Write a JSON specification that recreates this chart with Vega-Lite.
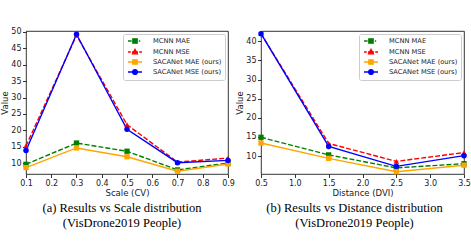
{
  "$schema": "https://vega.github.io/schema/vega-lite/v6.json",
  "padding": {"top": 27, "left": 0, "right": 0, "bottom": 0},
  "datasets": {
    "scale": [
      {"x": 0.1, "series": "MCNN MAE", "value": 9.6},
      {"x": 0.3, "series": "MCNN MAE", "value": 16.1},
      {"x": 0.5, "series": "MCNN MAE", "value": 13.6},
      {"x": 0.7, "series": "MCNN MAE", "value": 7.9},
      {"x": 0.9, "series": "MCNN MAE", "value": 10.0},
      {"x": 0.1, "series": "MCNN MSE", "value": 15.2},
      {"x": 0.3, "series": "MCNN MSE", "value": 49.0},
      {"x": 0.5, "series": "MCNN MSE", "value": 21.7},
      {"x": 0.7, "series": "MCNN MSE", "value": 10.3},
      {"x": 0.9, "series": "MCNN MSE", "value": 11.5},
      {"x": 0.1, "series": "SACANet MAE (ours)", "value": 8.6},
      {"x": 0.3, "series": "SACANet MAE (ours)", "value": 14.6},
      {"x": 0.5, "series": "SACANet MAE (ours)", "value": 11.9},
      {"x": 0.7, "series": "SACANet MAE (ours)", "value": 7.5},
      {"x": 0.9, "series": "SACANet MAE (ours)", "value": 9.7},
      {"x": 0.1, "series": "SACANet MSE (ours)", "value": 13.8},
      {"x": 0.3, "series": "SACANet MSE (ours)", "value": 49.3},
      {"x": 0.5, "series": "SACANet MSE (ours)", "value": 20.3},
      {"x": 0.7, "series": "SACANet MSE (ours)", "value": 10.1},
      {"x": 0.9, "series": "SACANet MSE (ours)", "value": 10.8}
    ],
    "distance": [
      {"x": 0.5, "series": "MCNN MAE", "value": 14.9},
      {"x": 1.5, "series": "MCNN MAE", "value": 10.3},
      {"x": 2.5, "series": "MCNN MAE", "value": 6.9},
      {"x": 3.5, "series": "MCNN MAE", "value": 8.0},
      {"x": 0.5, "series": "MCNN MSE", "value": 42.0},
      {"x": 1.5, "series": "MCNN MSE", "value": 13.3},
      {"x": 2.5, "series": "MCNN MSE", "value": 8.6},
      {"x": 3.5, "series": "MCNN MSE", "value": 10.9},
      {"x": 0.5, "series": "SACANet MAE (ours)", "value": 13.4},
      {"x": 1.5, "series": "SACANet MAE (ours)", "value": 9.4},
      {"x": 2.5, "series": "SACANet MAE (ours)", "value": 5.9},
      {"x": 3.5, "series": "SACANet MAE (ours)", "value": 7.6},
      {"x": 0.5, "series": "SACANet MSE (ours)", "value": 42.0},
      {"x": 1.5, "series": "SACANet MSE (ours)", "value": 12.5},
      {"x": 2.5, "series": "SACANet MSE (ours)", "value": 7.3},
      {"x": 3.5, "series": "SACANet MSE (ours)", "value": 10.1}
    ]
  },
  "spacing": 0,
  "resolve": {"scale": {"color": "independent", "x": "independent", "y": "independent"}, "legend": {"color": "independent"}},
  "hconcat": [
    {
      "width": 202,
      "height": 143,
      "data": {"name": "scale"},
      "title": {"text": ["(a) Results vs Scale distribution", "(VisDrone2019 People)"], "frame": "group", "dx": -5},
      "encoding": {
        "x": {"field": "x", "type": "quantitative", "title": "Scale (CV)", "scale": {"domain": [0.1, 0.9], "nice": false, "zero": false}, "axis": {"values": [0.1, 0.2, 0.3, 0.4, 0.5, 0.6, 0.7, 0.8, 0.9], "format": ".1f"}},
        "y": {"field": "value", "type": "quantitative", "title": "Value", "scale": {"domain": [6.65, 50.3], "nice": false, "zero": false}, "axis": {"values": [10, 15, 20, 25, 30, 35, 40, 45, 50]}},
        "color": {"field": "series", "type": "nominal", "scale": {"domain": ["MCNN MAE", "MCNN MSE", "SACANet MAE (ours)", "SACANet MSE (ours)"], "range": ["#008000", "#ff0000", "#ffa500", "#0000ff"]},
          "legend": {"title": null, "orient": "top-right", "offset": 3, "symbolSize": 36, "symbolStrokeWidth": 1.3, "symbolOffset": 5,
            "symbolType": {"expr": "datum.value === 'MCNN MAE' ? 'M-2.33,0H-1.13M1.27,0H1.73M-0.73,-0.73H0.73V0.73H-0.73Z' : datum.value === 'MCNN MSE' ? 'M-2.33,0H-1.4M-1,0H1M1.4,0H2.33M0,-0.87L0.8,0.6L-0.8,0.6Z' : datum.value === 'SACANet MAE (ours)' ? 'M-2.33,0H2.33M-0.73,-0.73H0.73V0.73H-0.73Z' : 'M-2.33,0H2.33M-0.8,0A0.8,0.8 0 1,0 0.8,0A0.8,0.8 0 1,0 -0.8,0Z'"}}}
      },
      "layer": [
        {"transform": [{"filter": {"field": "series", "oneOf": ["MCNN MAE", "MCNN MSE"]}}], "mark": {"type": "line", "strokeWidth": 1.4, "strokeDash": [5, 2]}},
        {"transform": [{"filter": {"field": "series", "oneOf": ["SACANet MAE (ours)", "SACANet MSE (ours)"]}}], "mark": {"type": "line", "strokeWidth": 1.4}},
        {"transform": [{"filter": {"field": "series", "oneOf": ["MCNN MAE", "SACANet MAE (ours)"]}}], "mark": {"type": "point", "shape": "square", "filled": true, "opacity": 1, "size": 28}},
        {"transform": [{"filter": {"field": "series", "equal": "MCNN MSE"}}], "mark": {"type": "point", "shape": "triangle-up", "filled": true, "opacity": 1, "size": 30}},
        {"transform": [{"filter": {"field": "series", "equal": "SACANet MSE (ours)"}}], "mark": {"type": "point", "shape": "circle", "filled": true, "opacity": 1, "size": 30}}
      ]
    },
    {
      "width": 203,
      "height": 143,
      "data": {"name": "distance"},
      "title": {"text": ["(b) Results vs Distance distribution", "(VisDrone2019 People)"], "frame": "group", "dx": -8},
      "encoding": {
        "x": {"field": "x", "type": "quantitative", "title": "Distance (DVI)", "scale": {"domain": [0.5, 3.5], "nice": false, "zero": false}, "axis": {"values": [0.5, 1.0, 1.5, 2.0, 2.5, 3.0, 3.5], "format": ".1f"}},
        "y": {"field": "value", "type": "quantitative", "title": "Value", "scale": {"domain": [5.3, 42.7], "nice": false, "zero": false}, "axis": {"values": [10, 15, 20, 25, 30, 35, 40]}},
        "color": {"field": "series", "type": "nominal", "scale": {"domain": ["MCNN MAE", "MCNN MSE", "SACANet MAE (ours)", "SACANet MSE (ours)"], "range": ["#008000", "#ff0000", "#ffa500", "#0000ff"]},
          "legend": {"title": null, "orient": "top-right", "offset": 3, "symbolSize": 36, "symbolStrokeWidth": 1.3, "symbolOffset": 5,
            "symbolType": {"expr": "datum.value === 'MCNN MAE' ? 'M-2.33,0H-1.13M1.27,0H1.73M-0.73,-0.73H0.73V0.73H-0.73Z' : datum.value === 'MCNN MSE' ? 'M-2.33,0H-1.4M-1,0H1M1.4,0H2.33M0,-0.87L0.8,0.6L-0.8,0.6Z' : datum.value === 'SACANet MAE (ours)' ? 'M-2.33,0H2.33M-0.73,-0.73H0.73V0.73H-0.73Z' : 'M-2.33,0H2.33M-0.8,0A0.8,0.8 0 1,0 0.8,0A0.8,0.8 0 1,0 -0.8,0Z'"}}}
      },
      "layer": [
        {"transform": [{"filter": {"field": "series", "oneOf": ["MCNN MAE", "MCNN MSE"]}}], "mark": {"type": "line", "strokeWidth": 1.4, "strokeDash": [5, 2]}},
        {"transform": [{"filter": {"field": "series", "oneOf": ["SACANet MAE (ours)", "SACANet MSE (ours)"]}}], "mark": {"type": "line", "strokeWidth": 1.4}},
        {"transform": [{"filter": {"field": "series", "oneOf": ["MCNN MAE", "SACANet MAE (ours)"]}}], "mark": {"type": "point", "shape": "square", "filled": true, "opacity": 1, "size": 28}},
        {"transform": [{"filter": {"field": "series", "equal": "MCNN MSE"}}], "mark": {"type": "point", "shape": "triangle-up", "filled": true, "opacity": 1, "size": 30}},
        {"transform": [{"filter": {"field": "series", "equal": "SACANet MSE (ours)"}}], "mark": {"type": "point", "shape": "circle", "filled": true, "opacity": 1, "size": 30}}
      ]
    }
  ],
  "config": {
    "view": {"stroke": "black", "strokeWidth": 0.8},
    "font": "DejaVu Sans",
    "axis": {"grid": false, "domain": false, "labelFont": "DejaVu Sans", "labelFontSize": 8, "labelColor": "#222", "labelPadding": 1.5, "labelFlush": false, "labelOverlap": false, "labelBound": false, "tickColor": "black", "tickSize": 3.5, "tickWidth": 0.8, "titleFont": "DejaVu Sans", "titleFontSize": 8.5, "titleFontWeight": "normal", "titleColor": "#222", "titlePadding": 1},
    "legend": {"labelFont": "DejaVu Sans", "labelFontSize": 6.7, "labelColor": "#222", "strokeColor": "#cccccc", "fillColor": "white", "padding": 3, "cornerRadius": 2, "rowPadding": 0, "labelOffset": 14},
    "title": {"orient": "bottom", "font": "Liberation Serif", "fontSize": 12.5, "fontWeight": "normal", "color": "black", "lineHeight": 15, "offset": 5, "anchor": "middle"}
  }
}
